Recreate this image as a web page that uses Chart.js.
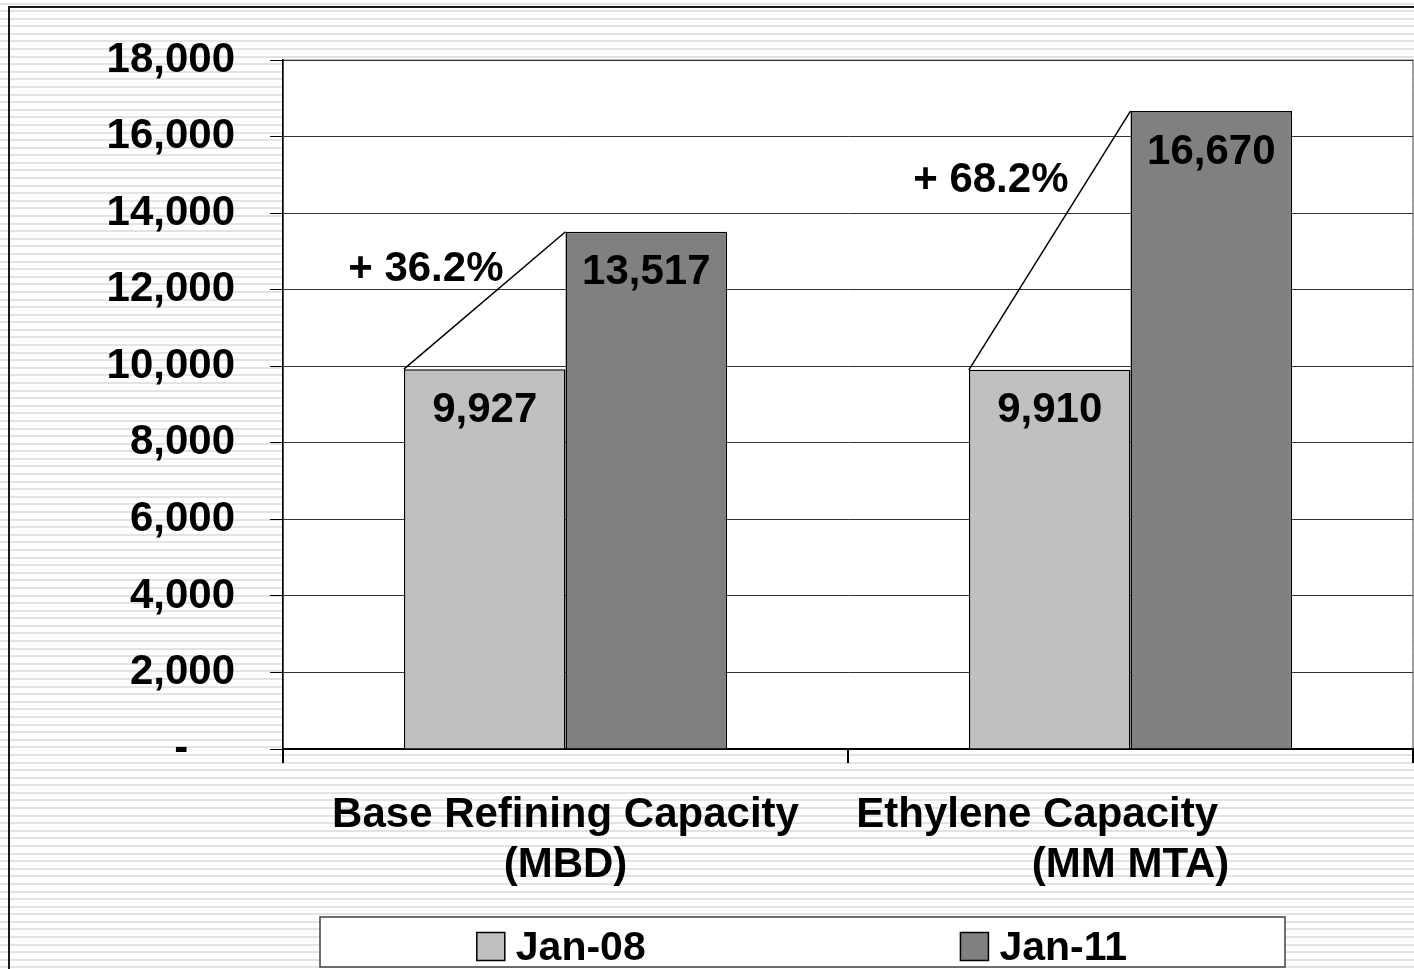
<!DOCTYPE html>
<html>
<head>
<meta charset="utf-8">
<script src="https://cdn.jsdelivr.net/npm/chart.js@4.4.1/dist/chart.umd.min.js"></script>
<style>
    body { margin: 0; background: #fff; }
    #wrap { width: 1414px; height: 969px; position: relative; }
</style>
</head>
<body>
<div id="wrap"><canvas id="chart1"></canvas></div>
<script>
// data
let categories = [
    ["Base Refining Capacity", "(MBD)"],
    ["Ethylene Capacity                ", "(MM MTA)"]
];
let seriesNames = ["Jan-08", "Jan-11"];
let jan08 = [9927, 9910];
let jan11 = [13517, 16670];
let growthLabels = ["+ 36.2%", "+ 68.2%"];
let yMin = 0,
    yMax = 18000,
    yStep = 2000;

const FONT = "'Liberation Sans', Arial, sans-serif";
Chart.defaults.font.family = FONT;
Chart.defaults.color = "#000";

// striped background, outer frame, white plot area
const backPlugin = {
    id: "back",
    beforeDraw(chart) {
        let ctx = chart.ctx,
            a = chart.chartArea;
        ctx.save();
        ctx.fillStyle = "#fff";
        ctx.fillRect(0, 0, chart.width, chart.height);
        ctx.fillStyle = "#e3e3e3";
        for (let y = 2.5; y < chart.height; y += 7.59) {
            ctx.fillRect(0, Math.round(y), chart.width, 2);
        }
        ctx.strokeStyle = "#1a1a1a";
        ctx.lineWidth = 2;
        ctx.strokeRect(9, 7, chart.width + 20, chart.height + 20);
        ctx.fillStyle = "#fff";
        ctx.fillRect(a.left, a.top, a.right - a.left, a.bottom - a.top);
        ctx.strokeStyle = "#808080";
        ctx.lineWidth = 1.5;
        ctx.strokeRect(a.left, a.top, a.right - a.left, a.bottom - a.top);
        ctx.restore();
    }
};

// value labels inside the bars + growth lines and texts
const labelPlugin = {
    id: "labels",
    afterDatasetsDraw(chart) {
        let ctx = chart.ctx;
        ctx.save();
        ctx.font = "bold 42px " + FONT;
        ctx.fillStyle = "#000";
        ctx.textAlign = "center";
        ctx.textBaseline = "middle";
        chart.data.datasets.forEach((ds, i) => {
            chart.getDatasetMeta(i).data.forEach((bar, j) => {
                ctx.fillText(ds.data[j].toLocaleString("en-US"), bar.x, bar.y + 41);
            });
        });
        let m0 = chart.getDatasetMeta(0).data,
            m1 = chart.getDatasetMeta(1).data;
        growthLabels.forEach((txt, j) => {
            let x0 = m0[j].x - m0[j].width / 2,
                y0 = m0[j].y,
                x1 = m1[j].x - m1[j].width / 2,
                y1 = m1[j].y;
            ctx.strokeStyle = "#000";
            ctx.lineWidth = 1.5;
            ctx.beginPath();
            ctx.moveTo(x0, y0);
            ctx.lineTo(x1, y1);
            ctx.stroke();
            let t = 0.74;
            ctx.textAlign = "right";
            ctx.fillText(txt, x0 + t * (x1 - x0) - 20, y0 + t * (y1 - y0) + 2);
        });
        ctx.restore();
    }
};

// framed legend under the chart
const legendPlugin = {
    id: "boxLegend",
    afterDraw(chart) {
        let ctx = chart.ctx;
        let left = 320,
            top = chart.height - 52,
            w = 965,
            h = 50;
        ctx.save();
        ctx.fillStyle = "#fff";
        ctx.fillRect(left, top, w, h);
        ctx.strokeStyle = "#404040";
        ctx.lineWidth = 1.5;
        ctx.strokeRect(left, top, w, h);
        ctx.font = "bold 41px " + FONT;
        ctx.textBaseline = "middle";
        ctx.textAlign = "left";
        let half = w / chart.data.datasets.length;
        chart.data.datasets.forEach((ds, i) => {
            let tw = ctx.measureText(ds.label).width;
            let itemW = 28 + 11 + tw;
            let x = left + half * i + (half - itemW) / 2;
            let cy = top + 29.5;
            ctx.fillStyle = ds.backgroundColor;
            ctx.fillRect(x, cy - 14, 28, 28);
            ctx.strokeStyle = "#000";
            ctx.lineWidth = 1.5;
            ctx.strokeRect(x, cy - 14, 28, 28);
            ctx.fillStyle = "#000";
            ctx.fillText(ds.label, x + 39, cy + 2);
        });
        ctx.restore();
    }
};

let chart1 = new Chart(document.getElementById("chart1").getContext("2d"), {
    type: "bar",
    data: {
        labels: categories,
        datasets: [{
            label: seriesNames[0],
            data: jan08,
            backgroundColor: "#c0c0c0",
            borderColor: "#000",
            borderWidth: 1.5,
            categoryPercentage: 0.572,
            barPercentage: 1.0
        }, {
            label: seriesNames[1],
            data: jan11,
            backgroundColor: "#808080",
            borderColor: "#000",
            borderWidth: 1.5,
            categoryPercentage: 0.572,
            barPercentage: 1.0
        }]
    },
    options: {
        responsive: true,
        maintainAspectRatio: false,
        animation: false,
        layout: {
            padding: { top: 59, right: 1, bottom: 70, left: 0 }
        },
        plugins: {
            legend: { display: false },
            tooltip: { enabled: false }
        },
        scales: {
            x: {
                grid: {
                    drawOnChartArea: false,
                    drawTicks: true,
                    tickLength: 14,
                    color: "#000",
                    lineWidth: 2
                },
                border: { color: "#000", width: 2 },
                ticks: {
                    padding: 27,
                    font: { size: 42, weight: "bold", lineHeight: "50px" },
                    maxRotation: 0,
                    autoSkip: false
                },
                afterFit(scale) {
                    scale.height = 150;
                    scale.paddingLeft = 0;
                    scale.paddingRight = 0;
                }
            },
            y: {
                min: yMin,
                max: yMax,
                grid: {
                    color: "#333",
                    lineWidth: 1,
                    tickLength: 13,
                    tickColor: "#000"
                },
                border: { color: "#000", width: 1.5 },
                ticks: {
                    stepSize: yStep,
                    padding: 35,
                    font: { size: 42, weight: "bold" },
                    callback: function (v) {
                        return v === 0 ? "-    " : v.toLocaleString("en-US");
                    }
                },
                afterFit(scale) {
                    scale.width = 283;
                }
            }
        }
    },
    plugins: [backPlugin, labelPlugin, legendPlugin]
});
</script>
</body>
</html>
